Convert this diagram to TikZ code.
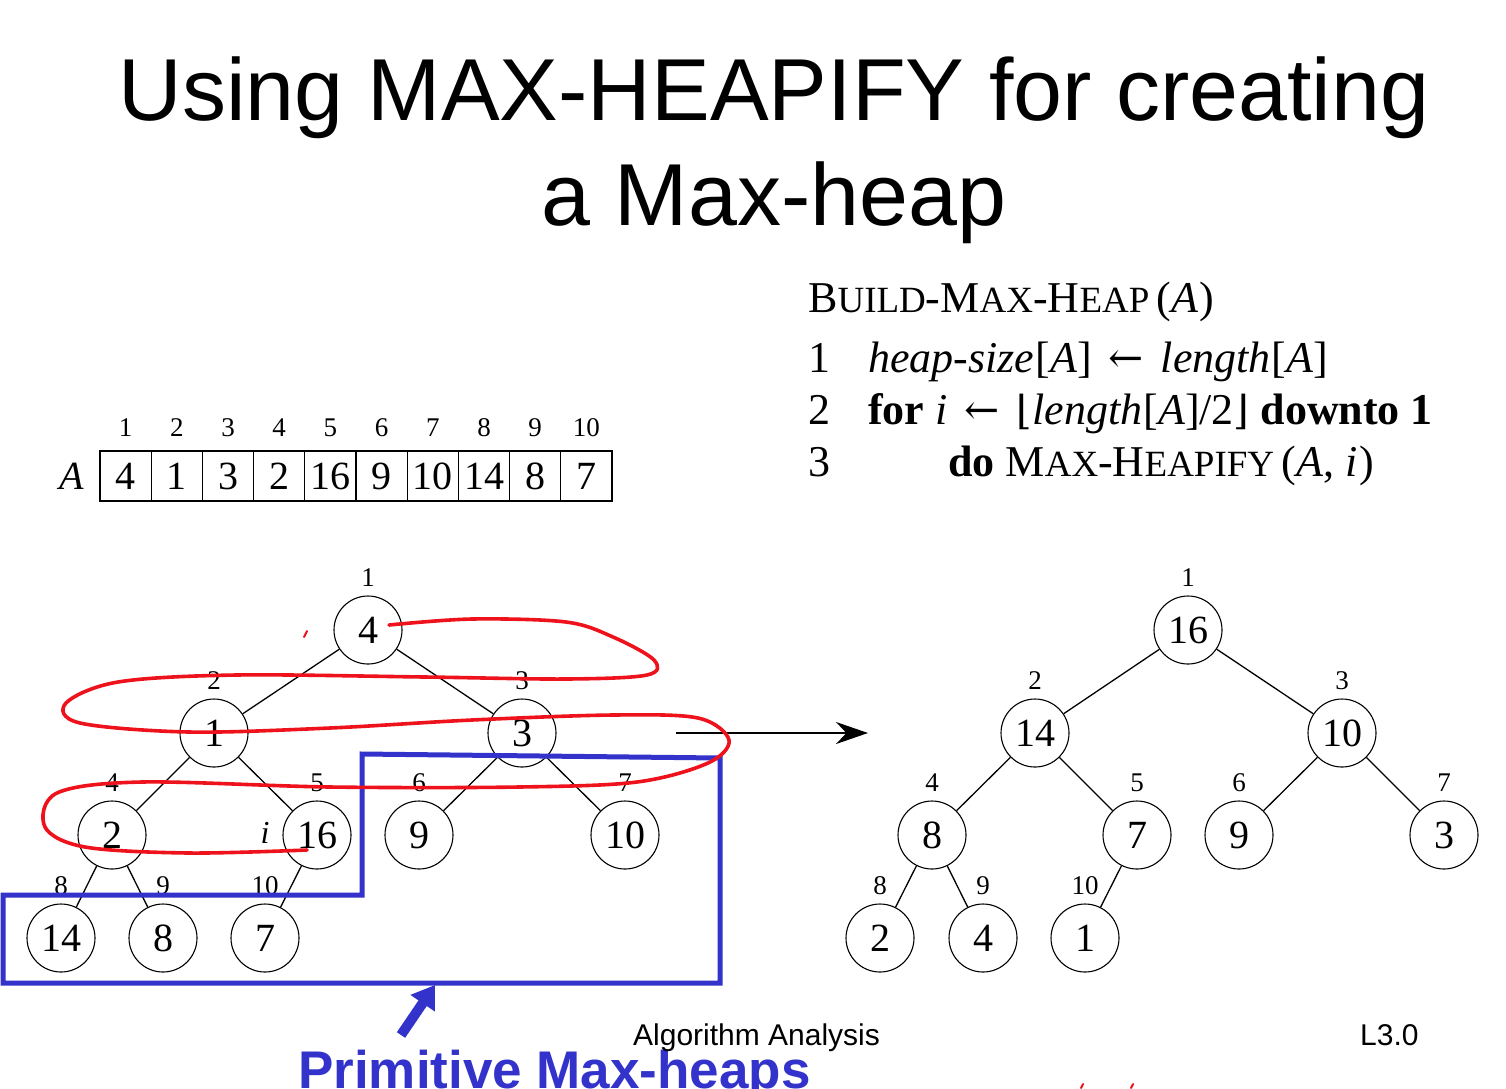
\documentclass[tikz,border=0pt]{standalone}
\usepackage{fontspec}
\setmainfont{Liberation Serif}
\newfontfamily\sansf{Liberation Sans}
\newfontfamily\dvs{DejaVu Serif}
\usetikzlibrary{arrows.meta}
\definecolor{hblue}{RGB}{51,51,204}
\definecolor{hred}{RGB}{238,18,28}
\newcommand\fs[1]{\fontsize{#1}{#1}\selectfont}
\newcommand\smc[1]{{\fontsize{37}{37}\selectfont #1}}
\newcommand\larr{\hspace{17pt}{\dvs\fs{42}←}\hspace{17pt}}
\begin{document}
\begin{tikzpicture}[x=1pt,y=-1pt,
 hnode/.style={circle,draw,line width=1.1pt,minimum size=68pt,inner sep=0pt,font=\fs{40}},
 idx/.style={font=\fs{27},inner sep=0pt},
 hedge/.style={line width=1.3pt},
 cell/.style={draw,line width=1.1pt,minimum width=51.2pt,minimum height=50pt,inner sep=0pt,font=\fs{40}},
 code/.style={anchor=base west,inner sep=0pt,font=\fs{44}},
 redpen/.style={hred,line width=3.6pt,line cap=round,line join=round},
 bluebox/.style={hblue,line width=5pt}]
\fill[white] (0,0) rectangle (1506,1088);
\clip (0,0) rectangle (1506,1088);

% Title
\node[anchor=base,inner sep=0pt,font=\sansf\fs{88}] (t1) at (774,120) {Using MAX-HEAPIFY for creating};
\node[anchor=base,inner sep=0pt,font=\sansf\fs{88}] (t2) at (774,225) {a Max-heap};

% Pseudocode
\node[code] (c0) at (808,312) {B\smc{UILD}-M\smc{AX}-H\smc{EAP}\,(\textit{A}\kern1pt)};
\node[code] (n1) at (808,372) {1};
\node[code] (n2) at (808,424) {2};
\node[code] (n3) at (808,476) {3};
\node[code] (c1) at (868,372) {\textit{heap-size}\kern1pt[\textit{A}]\larr\textit{length}\kern1pt[\textit{A}]};
\node[code] (c2) at (868,424) {\textbf{for} \textit{i}\larr{\dvs\fs{40}⌊}\textit{length}\kern1pt[\textit{A}]/2{\dvs\fs{40}⌋} \textbf{downto 1}};
\node[code] (c3) at (948,476) {\textbf{do} M\smc{AX}-H\smc{EAPIFY}\,(\textit{A}, \textit{i}\kern2pt)};

% Array
\node[font=\itshape\fs{40},inner sep=0pt] (Alab) at (72,476) {A};
\foreach \v [count=\k] in {4,1,3,2,16,9,10,14,8,7} {
  \node[cell] (A\k) at ({100+51.2*(\k-0.5)},476) {\v};
  \node[idx] (Ai\k) at ({100+51.2*(\k-0.5)},428) {\k};
}

% Left tree
\node[hnode] (L1) at (368,630) {4};
\node[hnode] (L2) at (214,733) {1};
\node[hnode] (L3) at (522,733) {3};
\node[hnode] (L4) at (112,835) {2};
\node[hnode] (L5) at (317,835) {16};
\node[hnode] (L6) at (419,835) {9};
\node[hnode] (L7) at (625,835) {10};
\node[hnode] (L8) at (61,938) {14};
\node[hnode] (L9) at (163,938) {8};
\node[hnode] (L10) at (265,938) {7};
\foreach \k in {1,...,10} { \node[idx] (Li\k) at ([yshift=52pt]L\k.center) {\k}; }
\node[font=\itshape\fs{32},inner sep=0pt] (ilab) at (265,833) {i};
\draw[hedge] (L1)--(L2) (L1)--(L3) (L2)--(L4) (L2)--(L5) (L3)--(L6) (L3)--(L7) (L4)--(L8) (L4)--(L9) (L5)--(L10);

% Right tree
\node[hnode] (R1) at (1188,630) {16};
\node[hnode] (R2) at (1035,733) {14};
\node[hnode] (R3) at (1342,733) {10};
\node[hnode] (R4) at (932,835) {8};
\node[hnode] (R5) at (1137,835) {7};
\node[hnode] (R6) at (1239,835) {9};
\node[hnode] (R7) at (1444,835) {3};
\node[hnode] (R8) at (880,938) {2};
\node[hnode] (R9) at (983,938) {4};
\node[hnode] (R10) at (1085,938) {1};
\foreach \k in {1,...,10} { \node[idx] (Ri\k) at ([yshift=52pt]R\k.center) {\k}; }
\draw[hedge] (R1)--(R2) (R1)--(R3) (R2)--(R4) (R2)--(R5) (R3)--(R6) (R3)--(R7) (R4)--(R8) (R4)--(R9) (R5)--(R10);

% Transition arrow
\coordinate (arS) at (676,733);
\coordinate (arE) at (868,733);
\draw[line width=1.3pt,-{Stealth[length=32pt,width=22pt]}] (arS) -- (arE);

% Blue region
\draw[bluebox,line join=miter] (3,895) -- (362,895) -- (362,754) -- (720,758) -- (720,983) -- (3,983) -- cycle;
\coordinate (bT) at (401,1035);
\coordinate (bH) at (435,985);
\draw[hblue,line width=10pt,-{Triangle[length=22pt,width=28pt]}] (bT) -- (bH);
\node[anchor=base west,inner sep=0pt,font=\sansf\bfseries\fs{53},text=hblue] (prim) at (298,1088) {Primitive Max-heaps};

% Red hand-drawn curve
\draw[redpen] plot[smooth,tension=0.55] coordinates {
 (389,625) (472,619) (566,622) (613,637) (654,660) (647,675) (566,679) (425,677) (236,675)
 (118,682) (66,703) (80,723) (189,732) (330,728) (472,720) (613,715) (698,718) (729,740)
 (708,763) (637,782) (519,787) (330,787) (142,782) (57,793) (45,827) (85,847) (189,853) (307,850)};
\draw[hred,line width=2pt,line cap=round] (304,637) -- (307,631);
\draw[hred,line width=2pt,line cap=round] (1081,1088) -- (1083,1084);
\draw[hred,line width=2pt,line cap=round] (1131,1088) -- (1133,1084);

% Footer
\node[anchor=base west,inner sep=0pt,font=\sansf\fs{30}] (foot1) at (633,1045) {Algorithm Analysis};
\node[anchor=base west,inner sep=0pt,font=\sansf\fs{30}] (foot2) at (1360,1045) {L3.0};
\end{tikzpicture}
\end{document}
